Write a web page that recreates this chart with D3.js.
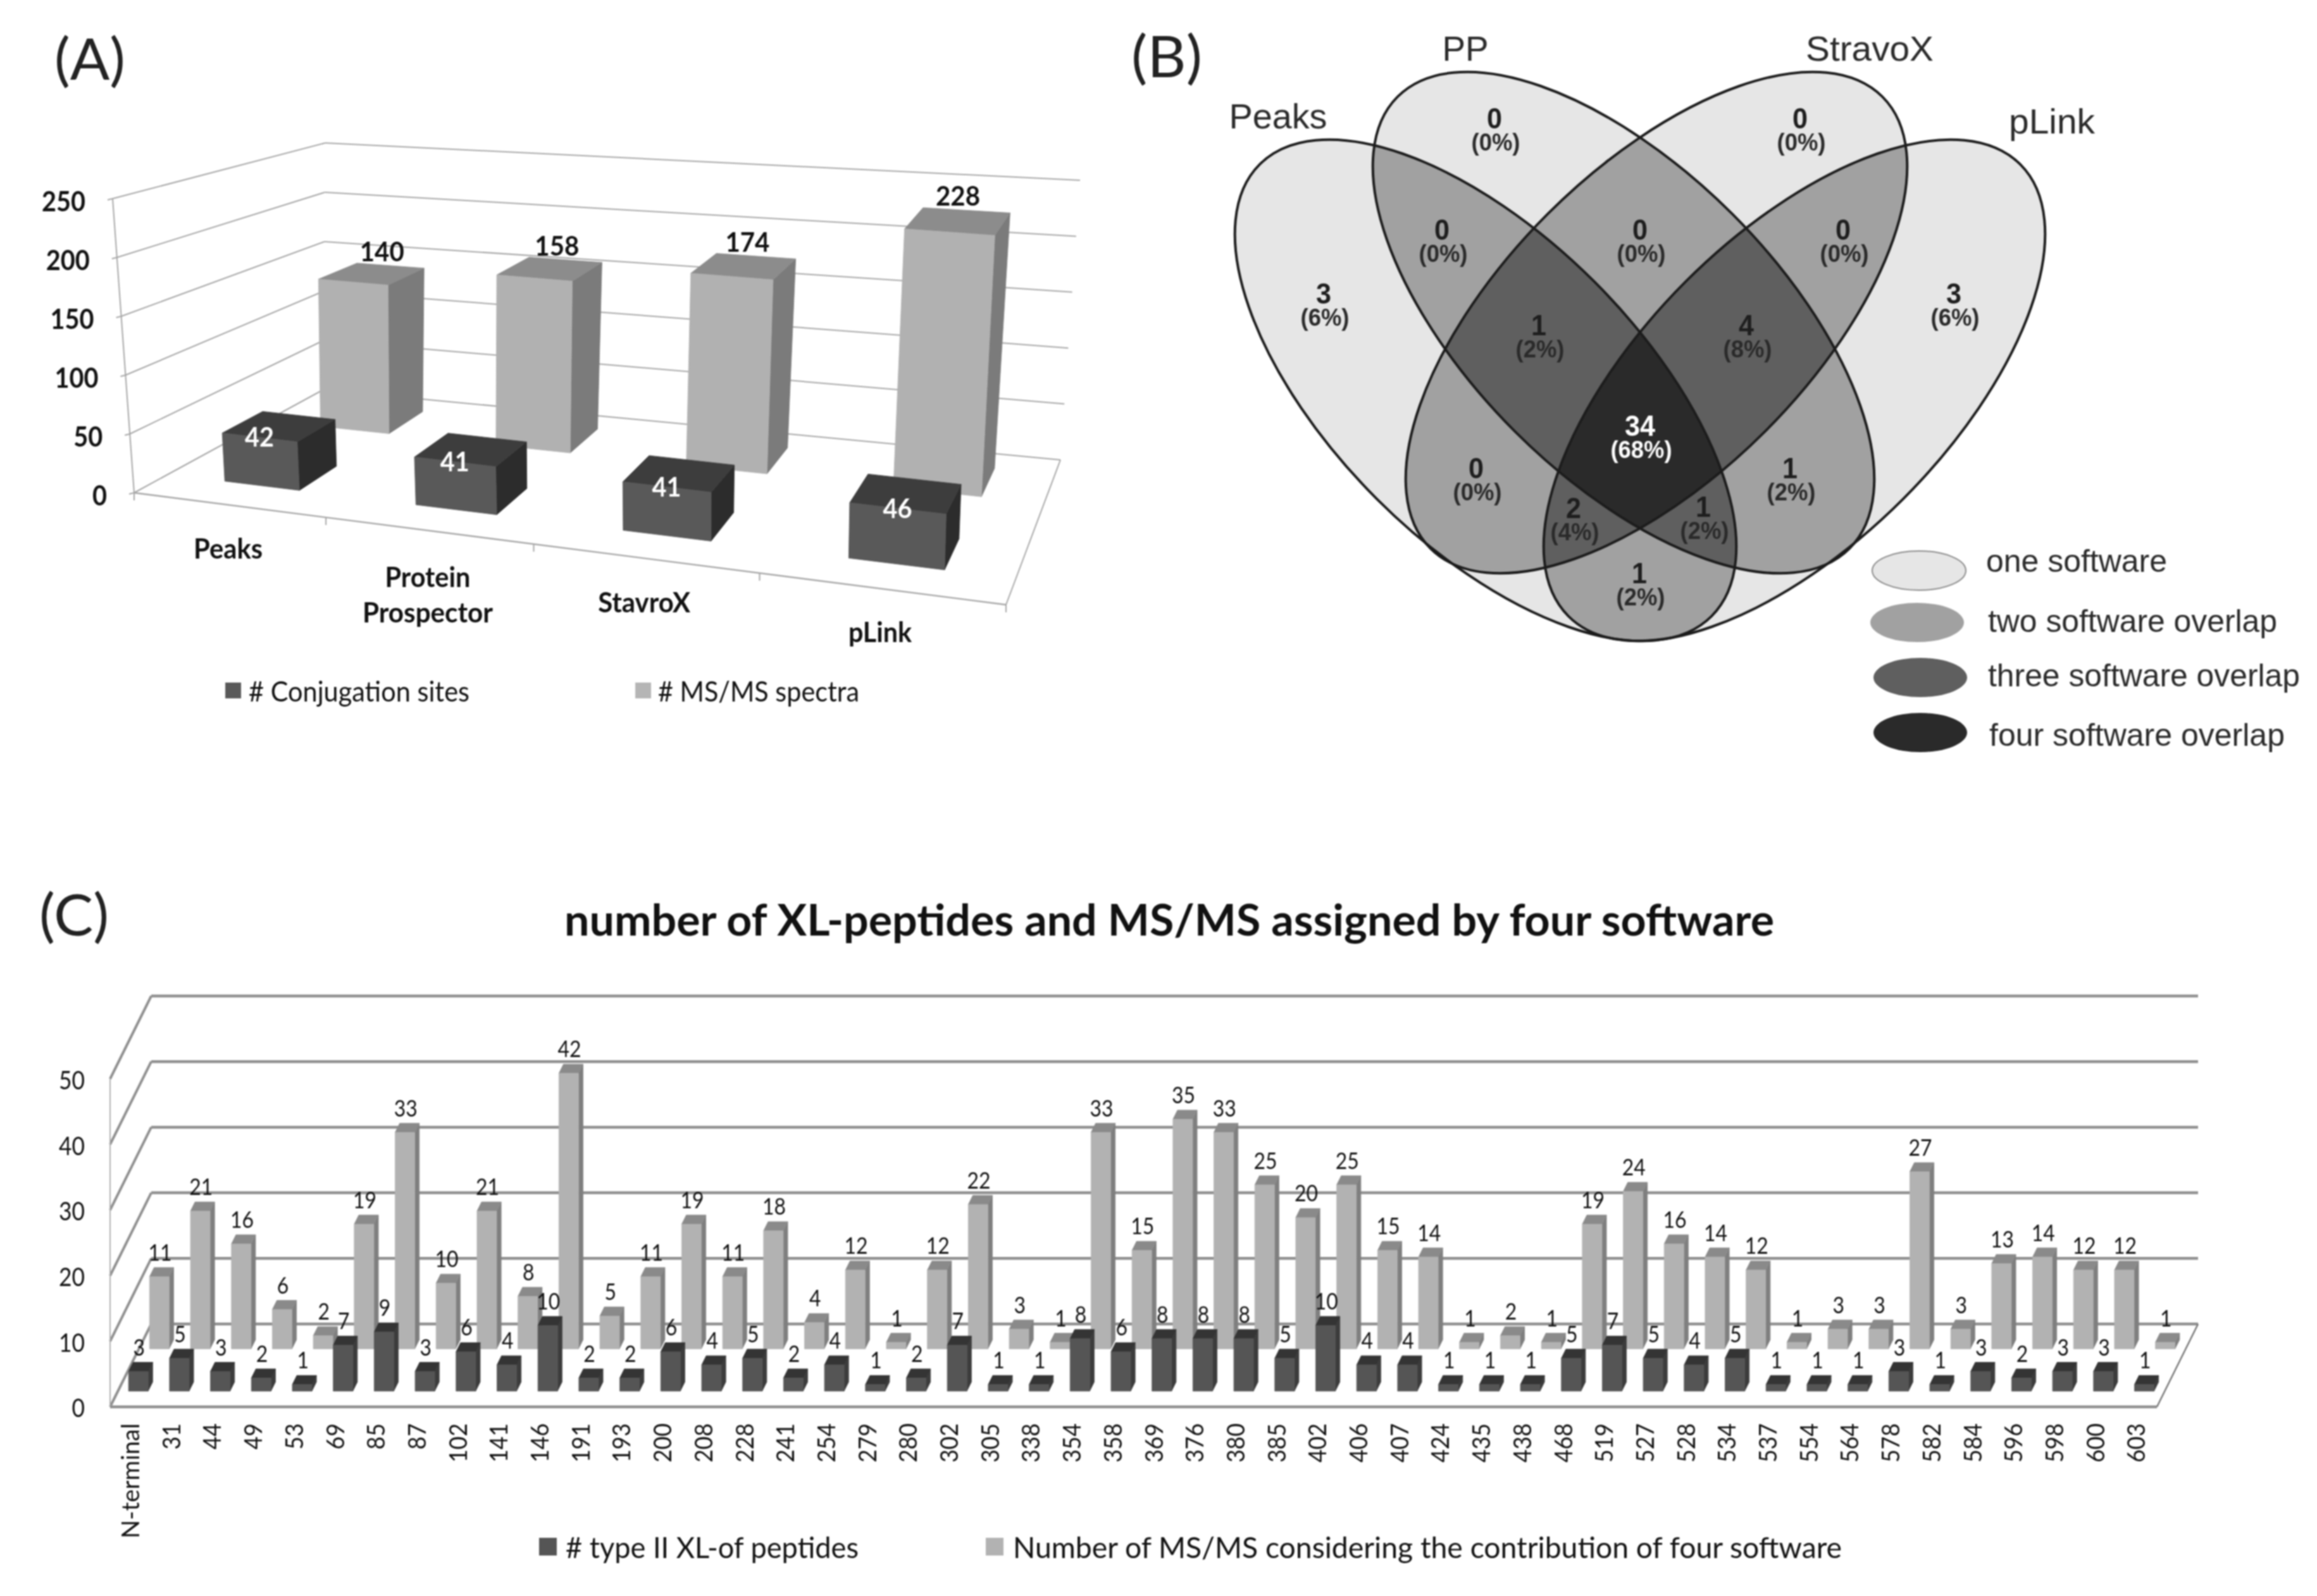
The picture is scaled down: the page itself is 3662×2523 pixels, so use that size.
<!DOCTYPE html>
<html><head><meta charset="utf-8">
<script src="https://cdn.jsdelivr.net/npm/d3@7/dist/d3.min.js"></script>
<style>html,body{margin:0;padding:0;background:#fff}svg{display:block;filter:blur(0.8px)}</style>
</head><body><svg id="c" width="3662" height="2523"></svg>
<script>
// ---------- Panel A data ----------
const softwareA = ["Peaks", ["Protein","Prospector"], "StavroX", "pLink"];
const conjugationSites = [42, 41, 41, 46];
const msmsSpectra = [140, 158, 174, 228];
const ticksA = [0, 50, 100, 150, 200, 250];
const legendA = ["# Conjugation sites", "# MS/MS spectra"];
// ---------- Panel B data ----------
const setNames = ["Peaks", "PP", "StravoX", "pLink"];
const vennCounts = [3, 3, 0, 0, 0, 0, 0, 1, 4, 34, 0, 1, 2, 1, 1];
const vennPct    = [6, 6, 0, 0, 0, 0, 0, 2, 8, 68, 0, 2, 4, 2, 2];
const legendB = ["one software", "two software overlap", "three software overlap", "four software overlap"];
// ---------- Panel C data ----------
const sites = ["N-terminal","31","44","49","53","69","85","87","102","141","146","191","193","200","208","228","241","254","279","280","302","305","338","354","358","369","376","380","385","402","406","407","424","435","438","468","519","527","528","534","537","554","564","578","582","584","596","598","600","603"];
const typeII = [3,5,3,2,1,7,9,3,6,4,10,2,2,6,4,5,2,4,1,2,7,1,1,8,6,8,8,8,5,10,4,4,1,1,1,5,7,5,4,5,1,1,1,3,1,3,2,3,3,1];
const msmsFour = [11,21,16,6,2,19,33,10,21,8,42,5,11,19,11,18,4,12,1,12,22,3,1,33,15,35,33,25,20,25,15,14,1,2,1,19,24,16,14,12,1,3,3,27,3,13,14,12,12,1];
const ticksC = [0,10,20,30,40,50];
const legendC = ["# type II XL-of peptides", "Number of MS/MS considering the contribution of four software"];
const titleC = "number of XL-peptides and MS/MS assigned by four software";

const svg = d3.select("#c");
const SANS = "Lato, Carlito, sans-serif", ARIAL = "'Liberation Sans', Arial, sans-serif";
const poly = (g, pts, fill, stroke) => g.append("polygon")
  .attr("points", pts.map(p => p.join(",")).join(" ")).attr("fill", fill)
  .attr("stroke", stroke || fill).attr("stroke-width", 0.8).attr("stroke-linejoin","round");
const line = (g, a, b, col, w) => g.append("line").attr("x1",a[0]).attr("y1",a[1]).attr("x2",b[0]).attr("y2",b[1]).attr("stroke",col).attr("stroke-width",w);
function label(g, x, y, s, o = {}) {
  const t = g.append("text").attr("x",x).attr("y",y).text(s)
    .attr("font-family", o.font || SANS).attr("font-size", o.size || 36)
    .attr("font-weight", o.weight || 400).attr("fill", o.fill || "#111")
    .attr("text-anchor", o.anchor || "middle").attr("dominant-baseline","central");
  if (o.len) t.attr("textLength", o.len).attr("lengthAdjust","spacingAndGlyphs");
  return t;
}
const chars = v => String(v).length;

// ---------- Panel letters ----------
label(svg, 86, 90, "(A)", {size:92, anchor:"start", len:112, fill:"#222"});
label(svg, 1788, 86, "(B)", {size:92, anchor:"start", len:112, fill:"#222"});
label(svg, 62, 1443, "(C)", {size:92, anchor:"start", len:110, fill:"#222"});

// ========== Panel A: perspective 3-D columns ==========
(function(){
  const g = svg.append("g");
  const C = { flb:[212,779], blb:[511,616], brb:[1676,727], frb:[1590,956],
              flt:[178,314], blt:[514,226], brt:[1707,285], frt:[1604,466] };
  const mix = (a,b,t) => [a[0]+(b[0]-a[0])*t, a[1]+(b[1]-a[1])*t];
  const warp = u => 0.846*u/(1-0.154*u);
  const val = d3.scaleLinear().domain([0,250]).range([0,1]);
  const band = d3.scaleBand().domain(d3.range(softwareA.length)).range([0,1]);
  const P = (u,d,v) => {
    const f = warp(u);
    const bot = mix(mix(C.flb,C.frb,f), mix(C.blb,C.brb,f), d);
    const top = mix(mix(C.flt,C.frt,f), mix(C.blt,C.brt,f), d);
    return mix(bot, top, val(v));
  };
  const GRID = "#a6a6a6";
  poly(g, [P(0,0,0),P(1,0,0),P(1,1,0),P(0,1,0)], "#fff", "#fff");
  ticksA.forEach(v => {
    line(g, P(0,0,v), P(0,1,v), GRID, 2);
    line(g, P(0,1,v), P(1,1,v), GRID, 2);
    const a = P(0,0,v);
    line(g, a, [a[0]-8,a[1]+2], GRID, 2);
    label(g, a[0]-43, a[1]+3, v, {size:44, weight:700, anchor:"end", len:23*chars(v)});
  });
  line(g, P(0,0,0), P(0,0,250), GRID, 2);
  line(g, P(0,0,0), P(1,0,0), GRID, 2.4);
  line(g, P(1,0,0), P(1,1,0), GRID, 2);
  d3.range(softwareA.length+1).forEach(i => { const a = P(i/4,0,0); line(g, a, [a[0],a[1]+12], GRID, 2); });

  const w = 0.1, padL = 0.081, padD = 0.078;
  function bar(i, v, d0, d1, cols, pad) {
    const u0 = band(i)+pad, u1 = u0+w;
    poly(g, [P(u1,d0,0),P(u1,d1,0),P(u1,d1,v),P(u1,d0,v)], cols[2]);
    poly(g, [P(u0,d0,v),P(u1,d0,v),P(u1,d1,v),P(u0,d1,v)], cols[1]);
    poly(g, [P(u0,d0,0),P(u1,d0,0),P(u1,d0,v),P(u0,d0,v)], cols[0]);
  }
  const LIGHT = ["#b1b1b1","#8c8c8c","#7b7b7b"], DARK = ["#595959","#3d3d3d","#2c2c2c"];
  msmsSpectra.forEach((v,i) => bar(i, v, 0.70, 0.90, LIGHT, padL));
  conjugationSites.forEach((v,i) => bar(i, v, 0.18, 0.40, DARK, padD));
  msmsSpectra.forEach((v,i) => {
    const p = P(band(i)+padL+w/2, 0.90, v);
    label(g, p[0]-13, p[1]-23, v, {size:42, weight:700, len:70});
  });
  conjugationSites.forEach((v,i) => {
    const p = P(band(i)+padD+w/2, 0.18, v);
    label(g, p[0], p[1]-1, v, {size:42, weight:700, fill:"#fff", len:46});
  });
  const catLen = {Peaks:109, Protein:135, Prospector:206, StavroX:146, pLink:100};
  softwareA.forEach((s,i) => {
    const p = P(band(i)+band.bandwidth()/2, 0, 0);
    if (Array.isArray(s)) s.forEach((l,k) => label(g, p[0], p[1]+72+k*56, l, {size:44, weight:700, len:catLen[l]}));
    else label(g, p[0], p[1]+68, s, {size:44, weight:700, len:catLen[s]});
  });
  // legend
  g.append("rect").attr("x",356).attr("y",1079).attr("width",25).attr("height",25).attr("fill","#595959");
  label(g, 393, 1092, legendA[0], {anchor:"start", size:44, len:349});
  g.append("rect").attr("x",1004).attr("y",1079).attr("width",25).attr("height",25).attr("fill","#b5b5b5");
  label(g, 1040, 1092, legendA[1], {anchor:"start", size:44, len:318});
})();

// ========== Panel B: four-set Venn ==========
(function(){
  const g = svg.append("g");
  const RX = 505, RY = 243;
  const ellipses = [
    {cx:2348, cy:617, rot:45}, {cx:2566, cy:510, rot:45},
    {cx:2618, cy:510, rot:-45}, {cx:2836, cy:617, rot:-45}];
  const shades = ["#e6e6e6","#a1a1a1","#5f5f5f","#2a2a2a"];
  const defs = g.append("defs");
  const ell = (sel, e) => sel.append("ellipse").attr("rx",RX).attr("ry",RY)
    .attr("transform",`translate(${e.cx},${e.cy}) rotate(${e.rot})`);
  ellipses.forEach((e,i) => ell(defs.append("clipPath").attr("id","v"+i), e));
  ellipses.forEach(e => ell(g,e).attr("fill",shades[0]));
  const combos = k => {
    const out = [];
    const rec = (s,a) => { if (a.length===k) {out.push(a);return;} for(let i=s;i<4;i++) rec(i+1,[...a,i]); };
    rec(0,[]); return out;
  };
  [2,3,4].forEach(k => combos(k).forEach(c => {
    let host = g;
    c.slice(1).forEach(i => { host = host.append("g").attr("clip-path",`url(#v${i})`); });
    ell(host, ellipses[c[0]]).attr("fill", shades[k-1]);
  }));
  ellipses.forEach(e => ell(g,e).attr("fill","none").attr("stroke","#1c1c1c").attr("stroke-width",4));
  const namePos = [[2020,183],[2316,76],[2955,76],[3243,191]];
  const nameLen = [155,73,202,136];
  setNames.forEach((s,i) => label(g, namePos[i][0], namePos[i][1], s, {font:ARIAL, size:56, fill:"#2a2a2a", len:nameLen[i]}));
  const regionPos = [[2092,464],[3088,464],[2362,187],[2845,187],[2279,363],[2592,363],[2913,363],
    [2432,514],[2760,514],[2592,673],[2333,740],[2829,740],[2487,803],[2692,801],[2591,906]];
  vennCounts.forEach((n,i) => {
    const [x,y] = regionPos[i], fill = n===34 ? "#fff" : "#1e1e1e";
    label(g, x, y, n, {font:ARIAL, size:46, weight:700, fill, len:24*chars(n)});
    label(g, x+2, y+38, `(${vennPct[i]}%)`, {font:ARIAL, size:38, weight:700, fill:n===34?"#fff":"#2a2a2a", len:chars(vennPct[i])===2?97:77});
  });
  const legY = [902,984,1071,1158], legX = [3033,3030,3035,3035];
  const txtX = [3139,3142,3142,3144], txtY = [887,982,1068,1162], txtL = [286,457,493,467];
  legendB.forEach((s,i) => {
    g.append("ellipse").attr("cx",legX[i]).attr("cy",legY[i]).attr("rx",74).attr("ry",31)
      .attr("fill",shades[i]).attr("stroke",i===0?"#8a8a8a":"none").attr("stroke-width",2);
    label(g, txtX[i], txtY[i], s, {font:ARIAL, size:50, anchor:"start", fill:"#2a2a2a", len:txtL[i]});
  });
})();

// ========== Panel C: 3-D columns ==========
(function(){
  const g = svg.append("g");
  const X0 = 174, Y0 = 2224, FW = 3235;
  const x = d3.scaleBand().domain(sites).range([0,FW]);
  const y = d3.scaleLinear().domain([0,50]).range([0,518.5]);
  const dx = d3.scaleLinear().domain([0,1]).range([0,65]);
  const dy = d3.scaleLinear().domain([0,1]).range([0,131]);
  const P = (u,d,v) => [X0+u+dx(d), Y0-dy(d)-y(v)];
  const GRID = "#8f8f8f";
  poly(g, [P(0,0,0),P(FW,0,0),P(FW,1,0),P(0,1,0)], "#fff", "#fff");
  ticksC.forEach(v => {
    line(g, P(0,0,v), P(0,1,v), GRID, 4);
    line(g, P(0,1,v), P(FW,1,v), GRID, 4.5);
  });
  line(g, P(0,0,0), P(0,0,50), "#b0b0b0", 2);
  line(g, P(0,0,0), P(FW,0,0), GRID, 4.5);
  line(g, P(FW,0,0), P(FW,1,0), "#777", 2.5);

  const bw = 31;
  function bar(i, v, d0, d1, cols) {
    const u0 = x(sites[i]) + (x.bandwidth()-bw)/2, u1 = u0+bw;
    poly(g, [P(u1,d0,0),P(u1,d1,0),P(u1,d1,v),P(u1,d0,v)], cols[2]);
    poly(g, [P(u0,d0,v),P(u1,d0,v),P(u1,d1,v),P(u0,d1,v)], cols[1]);
    poly(g, [P(u0,d0,0),P(u1,d0,0),P(u1,d0,v),P(u0,d0,v)], cols[0]);
  }
  msmsFour.forEach((v,i) => bar(i, v, 0.70, 0.81, ["#b2b2b2","#8a8a8a","#7f7f7f"]));
  typeII.forEach((v,i) => bar(i, v, 0.19, 0.30, ["#555555","#343434","#3c3c3c"]));
  msmsFour.forEach((v,i) => {
    const p = P(x(sites[i])+x.bandwidth()/2, 0.81, v);
    label(g, p[0]-6, p[1]-25, v, {size:36, len:18.5*chars(v)});
  });
  typeII.forEach((v,i) => {
    const p = P(x(sites[i])+x.bandwidth()/2, 0.30, v);
    label(g, p[0]-6, p[1]-25, v, {size:36, len:18.5*chars(v)});
  });

  // axes built by d3 from the scales
  const axisY = d3.scaleLinear().domain([0,50]).range([Y0, Y0-y(50)]);
  const ay = g.append("g").attr("transform","translate(134,3)")
    .call(d3.axisLeft(axisY).tickValues(ticksC).tickSize(0).tickPadding(0));
  ay.select(".domain").remove();
  ay.selectAll("text").attr("font-family",SANS).attr("font-size",40).attr("fill","#111")
    .attr("textLength",d => 20.5*chars(d)).attr("lengthAdjust","spacingAndGlyphs");
  const ax = g.append("g").attr("transform",`translate(${X0},2250)`)
    .call(d3.axisBottom(x).tickSize(0));
  ax.select(".domain").remove();
  ax.selectAll("text").attr("x",0).attr("y",0).attr("dy","0.36em")
    .attr("transform","rotate(-90)").attr("text-anchor","end")
    .attr("font-family",SANS).attr("font-size",38).attr("fill","#111")
    .attr("textLength",d => d.length>3 ? 182 : 20.7*d.length).attr("lengthAdjust","spacingAndGlyphs");

  label(g, 892, 1452, titleC, {anchor:"start", size:68, weight:700, len:1912});
  g.append("rect").attr("x",852).attr("y",2431).attr("width",28).attr("height",28).attr("fill","#555");
  label(g, 894, 2445, legendC[0], {anchor:"start", size:46, len:463});
  g.append("rect").attr("x",1558).attr("y",2431).attr("width",28).attr("height",28).attr("fill","#b2b2b2");
  label(g, 1601, 2445, legendC[1], {anchor:"start", size:46, len:1310});
})();
</script></body></html>
